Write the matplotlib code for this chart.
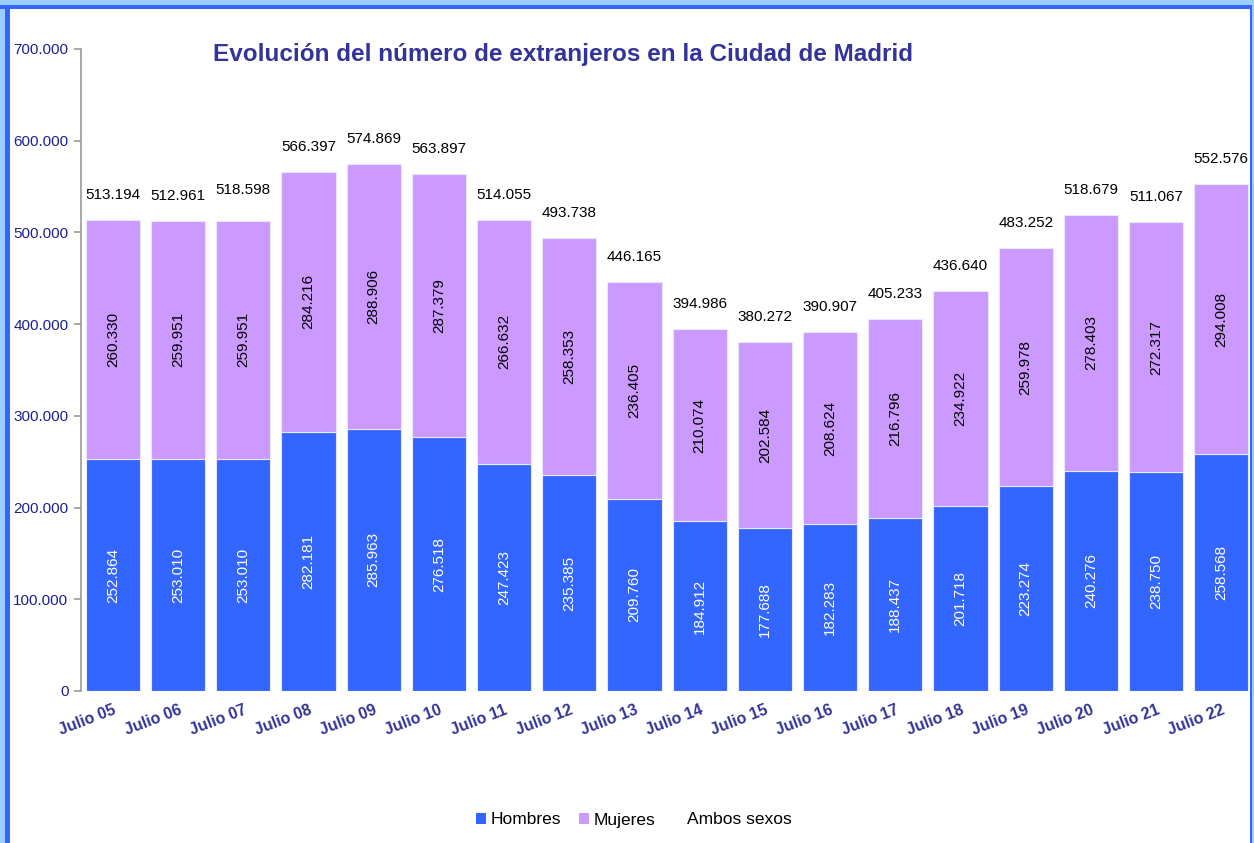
import matplotlib
matplotlib.use("Agg")
import matplotlib.pyplot as plt
from matplotlib.patches import Patch
from matplotlib.lines import Line2D
from matplotlib.ticker import FuncFormatter

plt.rcParams['font.family'] = ['Liberation Sans', 'DejaVu Sans']

categories = ["Julio 05", "Julio 06", "Julio 07", "Julio 08", "Julio 09", "Julio 10",
              "Julio 11", "Julio 12", "Julio 13", "Julio 14", "Julio 15", "Julio 16",
              "Julio 17", "Julio 18", "Julio 19", "Julio 20", "Julio 21", "Julio 22"]
hombres = [252864, 253010, 253010, 282181, 285963, 276518, 247423, 235385, 209760,
           184912, 177688, 182283, 188437, 201718, 223274, 240276, 238750, 258568]
mujeres = [260330, 259951, 259951, 284216, 288906, 287379, 266632, 258353, 236405,
           210074, 202584, 208624, 216796, 234922, 259978, 278403, 272317, 294008]
ambos = [513194, 512961, 518598, 566397, 574869, 563897, 514055, 493738, 446165,
         394986, 380272, 390907, 405233, 436640, 483252, 518679, 511067, 552576]

C_H = "#3366FF"
C_M = "#CC99FF"
NAVY = "#333399"

def fmt(v):
    return f"{v:,}".replace(",", ".")

fig = plt.figure(figsize=(12.54, 8.43), dpi=100)
fig.patch.set_facecolor("white")
ax = fig.add_axes([81/1254, 1 - 691/843, (1250 - 81)/1254, (691 - 49)/843])

x = list(range(len(categories)))
w = 0.83
ax.bar(x, hombres, width=w, color=C_H, edgecolor="#E8E8FF", linewidth=0.8, label="Hombres")
ax.bar(x, mujeres, width=w, bottom=hombres, color=C_M, edgecolor="#E8E8FF", linewidth=0.8, label="Mujeres")

for i in x:
    ax.text(i, hombres[i] / 2, fmt(hombres[i]), rotation=90, ha="center", va="center",
            color="white", fontsize=11)
    ax.text(i, hombres[i] + mujeres[i] / 2, fmt(mujeres[i]), rotation=90, ha="center",
            va="center", color="black", fontsize=11)
    ax.annotate(fmt(ambos[i]), (i, ambos[i]), xytext=(0, 18), textcoords="offset points",
                ha="center", va="center", fontsize=11, color="black")

ax.set_xlim(-0.49, 17.44)
ax.set_ylim(0, 700000)
ax.set_yticks(range(0, 700001, 100000))
ax.yaxis.set_major_formatter(FuncFormatter(lambda v, p: fmt(int(v))))
for s in ["top", "right", "bottom"]:
    ax.spines[s].set_visible(False)
ax.spines["left"].set_color("#999999")
ax.spines["left"].set_linewidth(1.2)
ax.tick_params(axis="y", colors="#999999", labelcolor="#1F1F8C", labelsize=11,
               length=5, width=1.2, pad=4)
ax.tick_params(axis="x", length=0, pad=8)
ax.set_xticks(x)
ax.set_xticklabels(categories, rotation=21, ha="right", rotation_mode="anchor",
                   fontsize=11.5, fontweight="bold", color=NAVY)

fig.text(563/1254, 1 - 55/843, "Evolución del número de extranjeros en la Ciudad de Madrid",
         ha="center", va="center", fontsize=17.5, fontweight="bold", color=NAVY)

handles = [Patch(facecolor=C_H, edgecolor="none"),
           Patch(facecolor=C_M, edgecolor="none"),
           Line2D([], [], linestyle="none")]
fig.legend(handles, ["Hombres", "Mujeres", "Ambos sexos"], loc="center",
           bbox_to_anchor=(634/1254, 1 - 820/843), ncol=3, frameon=False, fontsize=12.5,
           handlelength=0.6, handleheight=0.6, handletextpad=0.25, columnspacing=1.0)

# frame border (top, left, right)
W, H = 1254, 843
def hline(y0, y1, color):
    fig.add_artist(plt.Rectangle((0, 1 - y1/H), 1, (y1 - y0)/H, transform=fig.transFigure,
                                 facecolor=color, edgecolor="none", zorder=10))
def vline(x0, x1, color, ytop=0):
    fig.add_artist(plt.Rectangle((x0/W, 0), (x1 - x0)/W, 1 - ytop/H, transform=fig.transFigure,
                                 facecolor=color, edgecolor="none", zorder=10))
hline(0, 5, "#99CCFF")
vline(0, 5, "#99CCFF")
hline(5, 9, C_H)
vline(5, 10, C_H, ytop=5)
vline(1250, 1252, C_H, ytop=5)
vline(1252, 1254, "#99CCFF", ytop=5)

fig.savefig("out.png", dpi=100, facecolor="white")
